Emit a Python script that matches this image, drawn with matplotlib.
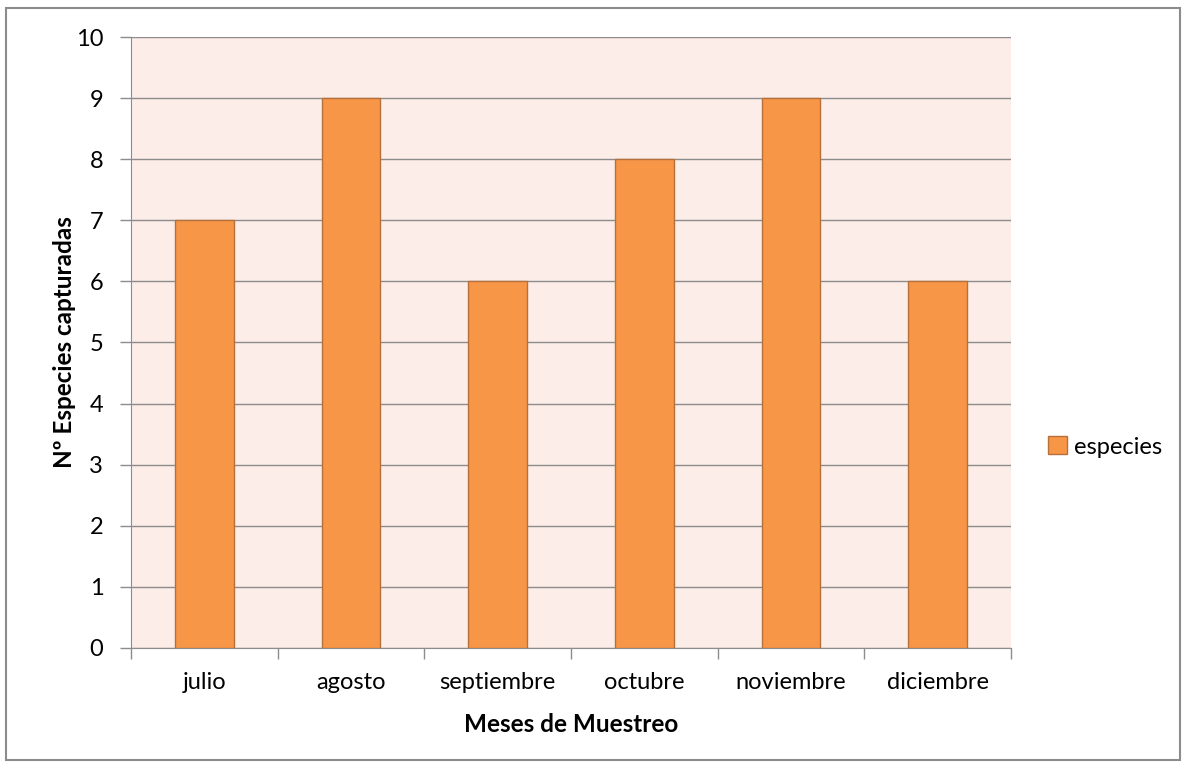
import numpy as np
import matplotlib.pyplot as plt
from matplotlib.patches import Rectangle

meses = ['julio', 'agosto', 'septiembre', 'octubre', 'noviembre', 'diciembre']
especies = [7, 9, 6, 8, 9, 6]
yticks = list(range(0, 11))

plt.rcParams['font.family'] = ['Lato', 'DejaVu Sans']

fig = plt.figure(figsize=(11.86, 7.68), dpi=100)
ax = fig.add_axes([0.1105, 0.1563, 0.742, 0.7955])
ax.set_facecolor('#FCEDE8')

x = np.arange(len(meses))
ax.bar(x, especies, width=0.4, color='#F79646', edgecolor='#B6703A',
       linewidth=1, label='especies', zorder=3)

ax.set_xlim(-0.5, len(meses) - 0.5)
ax.set_ylim(0, 10)
ax.set_yticks(yticks)
ax.yaxis.grid(True, color='#8C8C8C', linewidth=1, zorder=1)

# category separators on the x axis, names centred between them
ax.set_xticks(np.arange(-0.5, len(meses)), minor=False)
ax.set_xticklabels([])
ax.set_xticks(x, minor=True)
ax.set_xticklabels(meses, minor=True, fontsize=17)
ax.tick_params(axis='x', which='major', length=8, color='#8C8C8C', width=1)
ax.tick_params(axis='x', which='minor', length=0, pad=17)
ax.tick_params(axis='y', length=8, color='#8C8C8C', width=1, labelsize=17, pad=12)

for s in ['top', 'right']:
    ax.spines[s].set_visible(False)
for s in ['left', 'bottom']:
    ax.spines[s].set_color('#8C8C8C')

ax.set_xlabel('Meses de Muestreo', fontsize=17.5, fontweight='bold', labelpad=15)
ax.set_ylabel('Nº Especies capturadas', fontsize=17.5, fontweight='bold', labelpad=0)

fig.legend(loc='center left', bbox_to_anchor=(0.866, 0.418), frameon=False,
           fontsize=17, handlelength=0.8, handleheight=0.8, handletextpad=0.3)

fig.patches.append(Rectangle((0.005, 0.01), 0.99, 0.98, transform=fig.transFigure,
                             fill=False, edgecolor='#8C8C8C', linewidth=1.5))

fig.savefig('out.png', dpi=100)
